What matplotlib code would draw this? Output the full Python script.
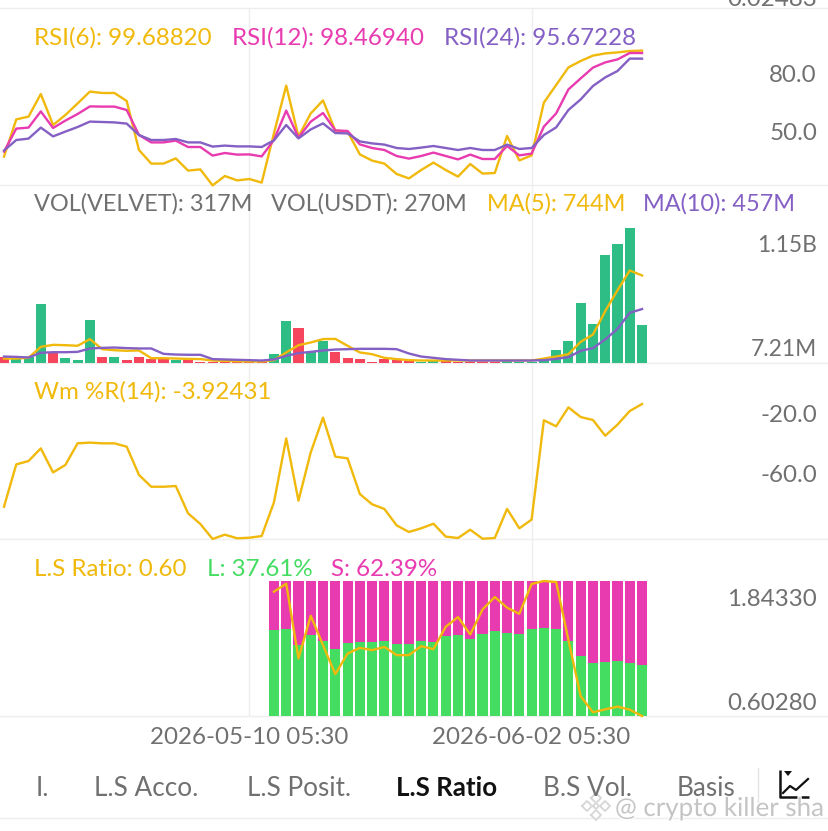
import matplotlib
matplotlib.use("Agg")
import matplotlib.pyplot as plt
import matplotlib.patheffects as pe
import numpy as np

plt.rcParams['font.family'] = ['Lato', 'DejaVu Sans']

YELLOW = '#f0b90b'
PINK = '#e83bb0'
PURPLE = '#8560c4'
GREEN = '#2ebd85'
RED = '#f6465d'
LS_GREEN = '#45dc62'
GREY = '#707070'
LINE = '#eeeeee'

# RSI
rsi6 = [46.7, 65.3, 66.7, 78, 62.5, 67.5, 73.3, 79.2, 78.5, 78.5, 74.5, 50, 43.2, 43.2, 45.8, 39.7, 40.3, 32.3,
        37, 34.8, 35.5, 33.7, 58.3, 82.2, 56.7, 68.3, 74.8, 59.7, 59.2, 47.8, 44.7, 43.2, 38, 35.8, 40, 43.7,
        40, 36.7, 43, 38.2, 38.5, 57, 44.8, 47.3, 73.7, 82.5, 91.3, 94.5, 97.2, 98.3, 98.8, 99.5, 99.69]
rsi12 = [49.2, 60.7, 61.2, 69.3, 61, 64.7, 68, 71.8, 71.7, 71.7, 70, 57.5, 53.8, 53.8, 54.7, 51.5, 51.5, 47.2,
         48.5, 47.7, 47.8, 46.8, 55, 69.7, 56.2, 64.2, 68.5, 59.8, 59.5, 52.8, 51, 50, 47, 45.7, 47, 48.7,
         47, 45.3, 47.7, 45.5, 45.5, 52, 47.3, 48.2, 61.7, 68.3, 80.3, 85.8, 91.2, 93.8, 95.3, 98.5, 98.47]
rsi24 = [49.7, 55, 55.7, 61.2, 56.8, 59.2, 61.5, 64.2, 64, 63.8, 63.2, 57.5, 55, 55, 55.5, 53.8, 53.8, 51.7,
         52.2, 51.8, 51.8, 51.5, 54.8, 62.5, 55.8, 60.3, 63.3, 58.5, 58.3, 54.3, 53.3, 52.7, 51, 50.5, 51.2, 52,
         51, 50, 51, 50, 50, 52.7, 50.5, 51, 57.5, 61.3, 70, 75.3, 82, 86.3, 89.5, 95.7, 95.67]

# volume, in millions
vol = [51, 31, 48, 502, 77, 40, 23, 362, 46, 43, 20, 43, 31, 26, 23, 26, 7, 7, 7, 7,
       7, 7, 74, 351, 294, 86, 180, 88, 37, 26, 7, 26, 23, 9, 7, 11, 11, 7, 7, 7,
       7, 11, 7, 7, 28, 108, 188, 510, 333, 918, 1017, 1151, 317]
vol_up = [0, 1, 1, 1, 0, 1, 1, 1, 0, 1, 0, 0, 0, 0, 1, 0, 0, 0, 0, 0,
          0, 0, 1, 1, 0, 1, 1, 0, 0, 0, 0, 0, 0, 0, 1, 1, 0, 0, 0, 0,
          0, 1, 1, 1, 1, 1, 1, 1, 1, 1, 1, 1, 1]
ma5 = [34, 34, 40, 134, 151, 148, 143, 200, 114, 105, 100, 103, 37, 37, 34, 31, 29, 17, 14, 11, 9, 9, 20, 86,
       148, 171, 200, 202, 143, 86, 71, 40, 29, 20, 17, 17, 17, 17, 17, 17, 17, 17, 17, 17, 34, 51, 71, 177,
       239, 439, 618, 787, 744]
ma10 = [51, 48, 43, 83, 88, 88, 91, 120, 125, 128, 123, 120, 120, 74, 68, 66, 66, 29, 26, 23, 20, 17, 26, 57,
        80, 91, 103, 111, 114, 117, 117, 117, 114, 77, 51, 40, 29, 23, 17, 17, 17, 17, 17, 17, 20, 31, 46, 100,
        123, 197, 288, 425, 457]

# Williams %R
wmr = [-77.0, -46.9, -44.5, -35.5, -52.6, -47.3, -31.9, -31.4, -31.9, -31.9, -34.3, -54.4, -62.8, -62.8, -62.3,
       -81.7, -89.3, -100, -96.9, -99.5, -99.1, -97.9, -73.9, -28.4, -72.7, -38.3, -13.6, -41.4, -42.6, -68.0,
       -75.3, -78.6, -90.3, -95.0, -92.4, -89.1, -98.3, -99.3, -93.4, -99.8, -99.3, -78.6, -92.4, -86.2, -15.5,
       -19.8, -6.3, -13.2, -15.3, -26.5, -18.6, -8.9, -3.92]

# long/short ratio, only the last 31 candles have data
ls_start = 22
long_pct = [63.4, 64.4, 52.5, 60.1, 55.2, 49.5, 54, 55, 54.7, 55.2, 53.5, 53.7, 55.4, 55, 58.9, 59.9,
            57.4, 61.1, 62.9, 61.4, 60.4, 64.4, 64.9, 64.6, 55.4, 44.3, 38.9, 39.9, 40.6, 39.6, 37.61]
ls_ratio = [1.745, 1.819, 1.131, 1.524, 1.254, 0.987, 1.177, 1.229, 1.208, 1.238, 1.162, 1.162, 1.245, 1.217,
            1.423, 1.512, 1.352, 1.582, 1.696, 1.598, 1.542, 1.816, 1.8433, 1.834, 1.300, 0.784, 0.637, 0.664,
            0.689, 0.661, 0.6028]

date_ticks = [20, 43]
date_labels = ['2026-05-10 05:30', '2026-06-02 05:30']
nav_labels = ['I.', 'L.S Acco.', 'L.S Posit.', 'L.S Ratio', 'B.S Vol.', 'Basis']
nav_x = [36, 94, 247, 396, 543, 677]

W, H = 829, 831
fig = plt.figure(figsize=(W / 100, H / 100), dpi=100, facecolor='white')

# overlay in pixel coordinates for the app chrome and labels
bg = fig.add_axes([0, 0, 1, 1], zorder=0)
bg.set_xlim(0, W)
bg.set_ylim(H, 0)
bg.axis('off')
top = fig.add_axes([0, 0, 1, 1], zorder=10, facecolor='none')
top.set_xlim(0, W)
top.set_ylim(H, 0)
top.axis('off')

for y in [8, 185, 362.5, 539, 716, 818]:
    bg.axhline(y, color=LINE, lw=1)


def panel(y0, y1):
    ax = fig.add_axes([0, 1 - y1 / H, 1, (y1 - y0) / H], zorder=5, facecolor='none')
    # candle 0 sits at pixel 4, spacing 12.27 px
    ax.set_xlim(-4 / 12.27, (W - 4) / 12.27)
    for s in ax.spines.values():
        s.set_visible(False)
    ax.set_yticks([])
    ax.set_xticks(date_ticks)
    ax.tick_params(length=0, labelbottom=False)
    ax.grid(axis='x', color=LINE, lw=1)
    ax.set_axisbelow(True)
    return ax


x = np.arange(len(rsi6))
LW = 1.7

# RSI panel
ax1 = panel(8, 185)
ax1.set_ylim(125 - 185 / 2, 125 - 8 / 2)
ax1.plot(x, rsi6, color=YELLOW, lw=LW, clip_on=False)
ax1.plot(x, rsi12, color=PINK, lw=LW)
ax1.plot(x, rsi24, color=PURPLE, lw=LW)

# volume panel
ax2 = panel(185, 362.5)
ax2.set_ylim(0, 177.5 * 8.55)
ax2.bar(x, vol, width=0.82, color=[GREEN if u else RED for u in vol_up])
ax2.plot(x, ma5, color=YELLOW, lw=LW)
ax2.plot(x, ma10, color=PURPLE, lw=LW)

# Wm %R panel
ax3 = panel(362.5, 539)
ax3.set_ylim(-100, -100 + 176.5 / 1.405)
ax3.plot(x, wmr, color=YELLOW, lw=LW, clip_on=False)

# L/S panel
ax4 = panel(539, 716)
ax4.set_ylim(0, 177 / 1.35)
xs = np.arange(ls_start, ls_start + len(long_pct))
short_pct = 100 - np.array(long_pct)
ax4.bar(xs, long_pct, width=0.82, color=LS_GREEN)
ax4.bar(xs, short_pct, width=0.82, bottom=long_pct, color=PINK)
ax4r = ax4.twinx()
ax4r.set_ylim(0.6028, 0.6028 + 177 * 1.2405 / 135)
ax4r.set_yticks([])
for s in ax4r.spines.values():
    s.set_visible(False)
ax4r.plot(xs, ls_ratio, color=YELLOW, lw=LW, clip_on=False)

# date axis
ax4.tick_params(labelbottom=True, pad=8, labelsize=17.4, labelcolor=GREY)
ax4.set_xticklabels(date_labels)

FS = 17.4


def label(x0, y, s, color=GREY, ha='left', fs=FS, **kw):
    return top.text(x0, y, s, color=color, ha=ha, va='center_baseline', fontsize=fs, **kw)


# indicator legends
label(34, 36, 'RSI(6): 99.68820', YELLOW)
label(232, 36, 'RSI(12): 98.46940', PINK)
label(444, 36, 'RSI(24): 95.67228', PURPLE)
label(34, 202, 'VOL(VELVET): 317M', fs=16.9)
label(271, 202, 'VOL(USDT): 270M', fs=16.9)
label(487, 202, 'MA(5): 744M', YELLOW, fs=16.9)
label(643, 202, 'MA(10): 457M', PURPLE, fs=16.9)
label(34, 390, 'Wm %R(14): -3.92431', YELLOW)
label(34, 567, 'L.S Ratio: 0.60', YELLOW)
label(207, 567, 'L: 37.61%', LS_GREEN)
label(331, 567, 'S: 62.39%', PINK)

# right side scale labels
for y, s, fs in [(-3, '0.02483', FS), (73, '80.0', FS), (131, '50.0', FS), (244, '1.15B', 16.4), (347, '7.21M', 16.4),
                 (413, '-20.0', FS), (473, '-60.0', FS), (598, '1.84330', FS), (702, '0.60280', FS)]:
    label(817, y, s, ha='right', fs=fs)

# bottom tab bar
for xn, s in zip(nav_x, nav_labels):
    if s == 'L.S Ratio':
        label(xn, 786, s, '#111111', fs=18.6, fontweight='bold')
    else:
        label(xn, 786, s, fs=18.8)

# tab bar icon
top.plot([758, 758], [768, 808], color='#e4e4e4', lw=1)
top.plot([780, 780, 809], [770, 797, 797], color='#111111', lw=1.8, solid_capstyle='butt')
top.plot([783, 790, 796, 808], [793, 786, 790, 779], color='#111111', lw=1.6)
top.fill([784, 792, 788], [771, 771, 776], color='#111111', lw=0)

# watermark
halo = [pe.withStroke(linewidth=1.5, foreground='white')]
top.text(615, 806, '@ crypto killer sha', color='#c4c4c4', fontsize=18.7, ha='left', va='center_baseline',
         path_effects=halo)
for cx, cy, r in [(596, 798, 5), (596, 815, 5), (587, 806, 5), (605, 806, 5), (596, 806, 3)]:
    top.plot([cx - r, cx, cx + r, cx, cx - r], [cy, cy - r, cy, cy + r, cy], color='#d6d6d6', lw=1.3,
             path_effects=halo)

fig.savefig('out.png', dpi=100, facecolor='white')
